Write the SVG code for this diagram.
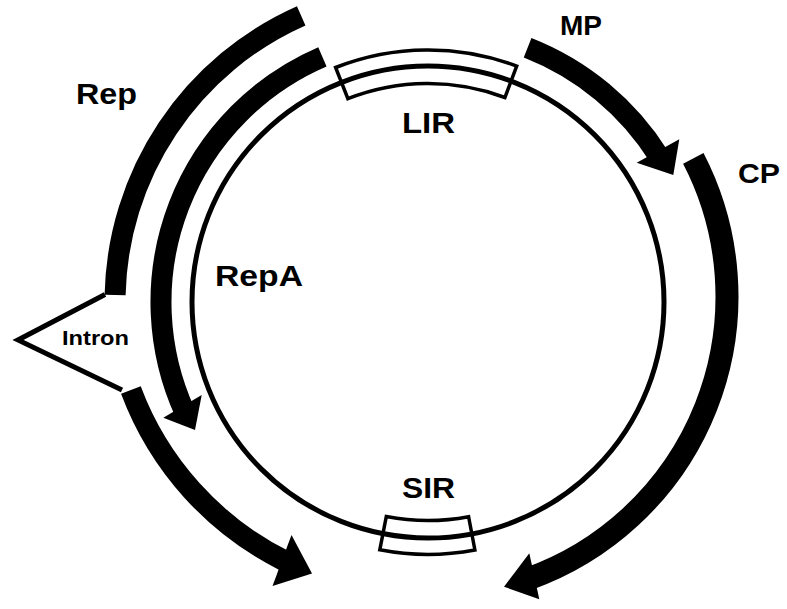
<svg xmlns="http://www.w3.org/2000/svg" width="787" height="609" viewBox="0 0 787 609">
<style>
.band{fill:none;stroke:#000;stroke-width:21;stroke-linecap:butt}
.head{fill:#000;stroke:none}
.thin{fill:none;stroke:#000;stroke-width:5}
.box{fill:none;stroke:#000;stroke-width:3.5;stroke-linejoin:miter}
.lbl{font-family:"Liberation Sans",Arial,sans-serif;font-weight:bold;fill:#000}
</style>
<rect x="0" y="0" width="787" height="609" fill="#fff"/>
<g id="genome">
<circle class="thin" cx="428" cy="302" r="236"/>
</g>
<g id="LIR">
<path class="box" d="M 335.6,67.5 A 252 252 0 0 1 516.7,66.1 L 504.9,97.5 A 218.5 218.5 0 0 0 347.9,98.7 Z"/>
<text class="lbl" x="402" y="133" font-size="29" textLength="53" lengthAdjust="spacingAndGlyphs">LIR</text>
</g>
<g id="SIR">
<path class="box" d="M 386.3,516.5 A 218.5 218.5 0 0 0 468.6,516.7 L 474.9,550.0 A 252.4 252.4 0 0 1 379.8,549.8 Z"/>
<text class="lbl" x="402" y="498" font-size="29" textLength="53" lengthAdjust="spacingAndGlyphs">SIR</text>
</g>
<g id="Rep">
<path class="band" d="M 301.2,15.8 A 313 313 0 0 0 115.1,294.9"/>
<path class="band" d="M 130.9,390 A 314 314 0 0 0 284.9,561.0"/>
<polygon class="head" points="291.5,535 312,573.5 272.5,586"/>
<text class="lbl" x="76" y="104" font-size="29" textLength="61" lengthAdjust="spacingAndGlyphs">Rep</text>
</g>
<g id="Intron">
<path class="thin" stroke-linejoin="miter" stroke-miterlimit="10" d="M 105,294.5 L 18,340 L 122,390"/>
<text class="lbl" x="62" y="345" font-size="21" textLength="67" lengthAdjust="spacingAndGlyphs">Intron</text>
</g>
<g id="RepA">
<path class="band" d="M 322.4,56.8 A 267 267 0 0 0 185.0,412.7"/>
<polygon class="head" points="201.7,395 195,430 163.3,417.7"/>
<text class="lbl" x="215" y="286" font-size="29" textLength="88" lengthAdjust="spacingAndGlyphs">RepA</text>
</g>
<g id="MP">
<path class="band" d="M 527.6,47.8 A 273 273 0 0 1 659.5,157.3"/>
<polygon class="head" points="679.3,139.3 673.3,175 636.7,162.7"/>
<text class="lbl" x="560" y="35" font-size="28" textLength="42" lengthAdjust="spacingAndGlyphs">MP</text>
</g>
<g id="CP">
<path class="band" style="stroke-width:23" d="M 693.3,158.4 A 300 300 0 0 1 527.1,579.3"/>
<polygon class="head" points="529.3,553.3 504,586.7 539.3,599.3"/>
<text class="lbl" x="738" y="183" font-size="28" textLength="42" lengthAdjust="spacingAndGlyphs">CP</text>
</g>
<g id="connectors"></g>
</svg>
